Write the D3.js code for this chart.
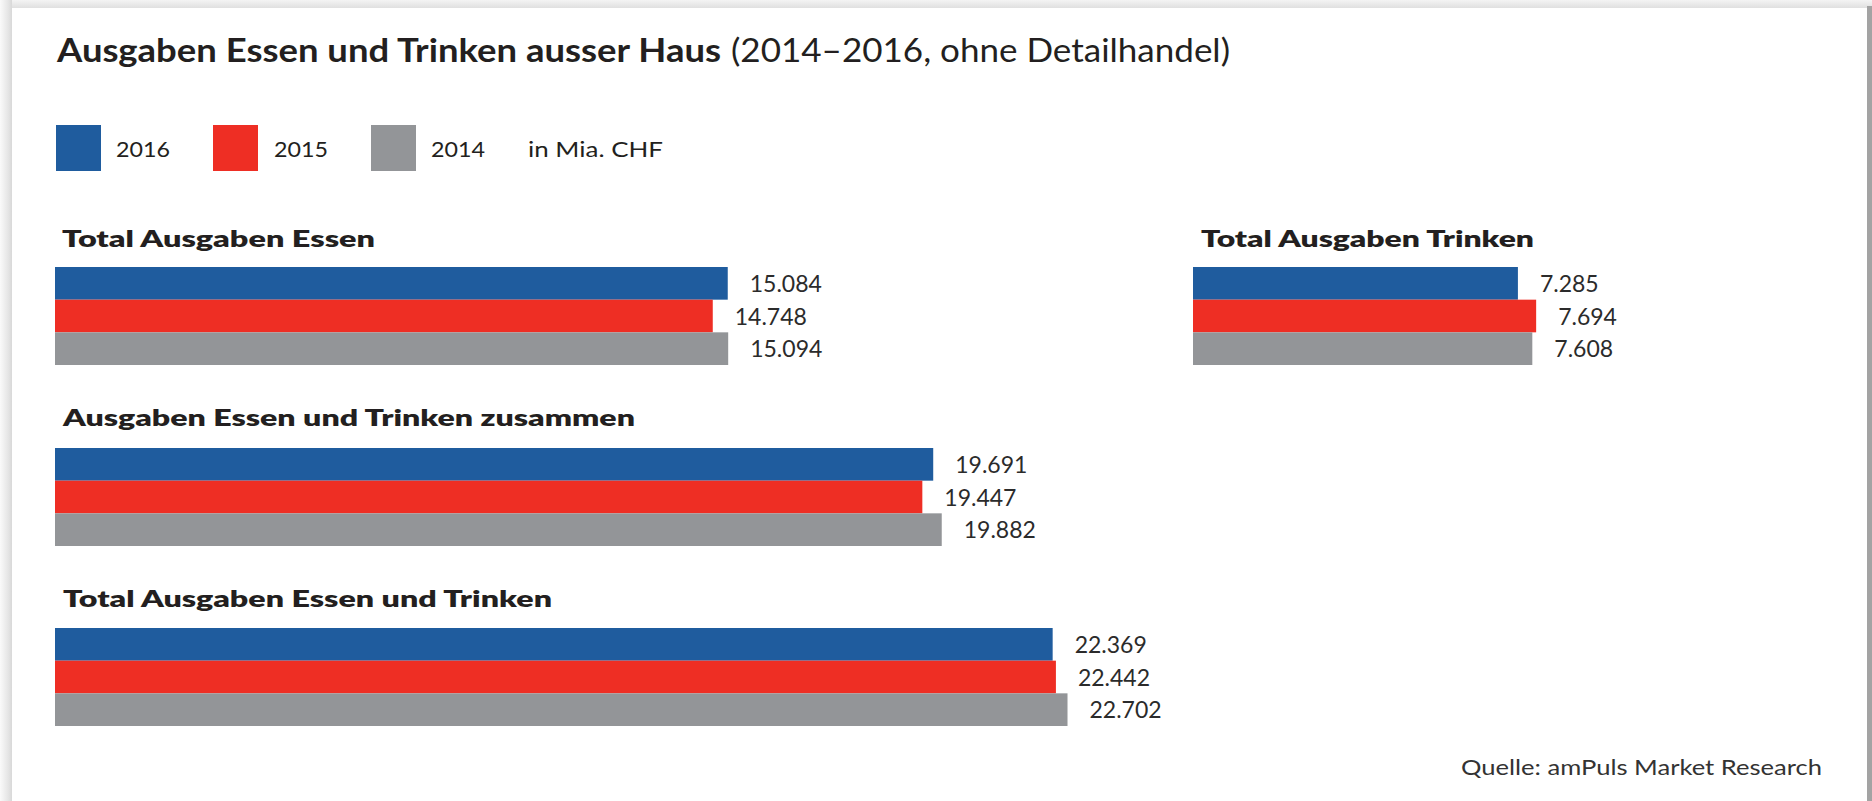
<!DOCTYPE html>
<html><head><meta charset="utf-8">
<script src="https://cdn.jsdelivr.net/npm/d3@7"></script>
<style>
html,body{margin:0;padding:0;background:#fff;}
svg{display:block;font-family:Lato,"Open Sans",sans-serif;}
</style></head>
<body>
<svg id="chart" width="1872" height="801"></svg>
<script>
// ---- data ----
const years = ["2016", "2015", "2014"];
const colors = ["#1f5c9e", "#ee2e24", "#939598"];
const groupTitles = ["Total Ausgaben Essen", "Total Ausgaben Trinken", "Ausgaben Essen und Trinken zusammen", "Total Ausgaben Essen und Trinken"];
const essen = [15.084, 14.748, 15.094];
const trinken = [7.285, 7.694, 7.608];
const zusammen = [19.691, 19.447, 19.882];
const totalET = [22.369, 22.442, 22.702];
const valueLabels = [
  ["15.084", "14.748", "15.094"],
  ["7.285", "7.694", "7.608"],
  ["19.691", "19.447", "19.882"],
  ["22.369", "22.442", "22.702"]
];
const titleBold = "Ausgaben Essen und Trinken ausser Haus";
const titleRest = "(2014–2016, ohne Detailhandel)";
const unitLabel = "in Mia. CHF";
const sourceLabel = "Quelle: amPuls Market Research";

const svg = d3.select("#chart");
const W = 1872, H = 801;

// ---- card frame ----
const defs = svg.append("defs");
const lg = defs.append("linearGradient").attr("id","lshadow").attr("x1",0).attr("x2",1).attr("y1",0).attr("y2",0);
lg.append("stop").attr("offset","0%").attr("stop-color","#fafafa");
lg.append("stop").attr("offset","70%").attr("stop-color","#e4e4e4");
lg.append("stop").attr("offset","100%").attr("stop-color","#d8d8d8");
const tg = defs.append("linearGradient").attr("id","tshadow").attr("x1",0).attr("x2",0).attr("y1",0).attr("y2",1);
tg.append("stop").attr("offset","0%").attr("stop-color","#f4f4f4");
tg.append("stop").attr("offset","100%").attr("stop-color","#e0e0e0");
svg.append("rect").attr("x",0).attr("y",0).attr("width",W).attr("height",8).attr("fill","url(#tshadow)");
svg.append("rect").attr("x",0).attr("y",0).attr("width",12).attr("height",H).attr("fill","url(#lshadow)");
svg.append("rect").attr("x",12).attr("y",8).attr("width",1855).attr("height",H).attr("fill","#fff");
svg.append("rect").attr("x",1867).attr("y",6).attr("width",5).attr("height",H).attr("fill","#a3a3a3");

function fit(sel, w){ sel.attr("textLength", w).attr("lengthAdjust","spacingAndGlyphs"); return sel; }

const textColor = "#231f20";

// ---- title ----
fit(svg.append("text").attr("x",57).attr("y",62).attr("font-size",33).attr("font-weight",700)
  .attr("fill",textColor).text(titleBold), 664);
fit(svg.append("text").attr("x",731).attr("y",62).attr("font-size",33).attr("font-weight",400)
  .attr("fill",textColor).text(titleRest), 499);

// ---- legend ----
const legX = [56, 213, 371];
const legTxtX = [116, 274, 431];
years.forEach((y,i)=>{
  svg.append("rect").attr("x",legX[i]).attr("y",125).attr("width",45).attr("height",46).attr("fill",colors[i]);
  fit(svg.append("text").attr("x",legTxtX[i]).attr("y",157).attr("font-size",22).attr("fill",textColor).text(y), 54);
});
fit(svg.append("text").attr("x",528).attr("y",157).attr("font-size",22).attr("fill",textColor).text(unitLabel), 135);

// ---- scales ----
const x = d3.scaleLinear().domain([0, 25]).range([0, 1115]);

const groups = [
  {title: groupTitles[0], vals: essen, labels: valueLabels[0], left: 55, top: 267, titleX: 62, titleY: 247, titleW: 313},
  {title: groupTitles[1], vals: trinken, labels: valueLabels[1], left: 1193, top: 267, titleX: 1201, titleY: 247, titleW: 333},
  {title: groupTitles[2], vals: zusammen, labels: valueLabels[2], left: 55, top: 448, titleX: 63, titleY: 426, titleW: 572},
  {title: groupTitles[3], vals: totalET, labels: valueLabels[3], left: 55, top: 628, titleX: 63, titleY: 607, titleW: 489}
];

groups.forEach(g=>{
  fit(svg.append("text").attr("x",g.titleX).attr("y",g.titleY).attr("font-size",23).attr("font-weight",800)
    .attr("fill",textColor).text(g.title), g.titleW);
  const yb = d3.scaleBand().domain(years).range([g.top, g.top + 98]).padding(0);
  const gg = svg.append("g").attr("transform",`translate(${g.left},0)`);
  gg.selectAll("rect").data(g.vals).join("rect")
    .attr("x", 0)
    .attr("y", (d,i)=>yb(years[i]))
    .attr("width", d=>x(d))
    .attr("height", yb.bandwidth())
    .attr("fill", (d,i)=>colors[i]);
  gg.selectAll("text").data(g.vals).join("text")
    .attr("x", d=>x(d) + 22)
    .attr("y", (d,i)=>yb(years[i]) + yb.bandwidth()/2 + 8.5)
    .attr("font-size", 23)
    .attr("fill", "#2b2b2b")
    .text((d,i)=>g.labels[i]);
});

// ---- source ----
fit(svg.append("text").attr("x",1461).attr("y",775).attr("font-size",22).attr("fill","#333").text(sourceLabel), 361);
</script>
</body></html>
